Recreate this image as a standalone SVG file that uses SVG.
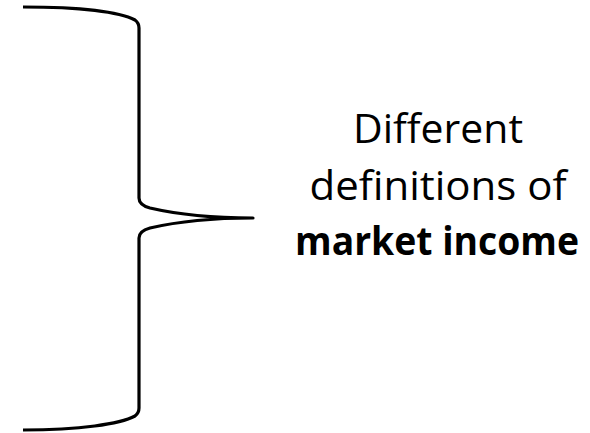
<svg xmlns="http://www.w3.org/2000/svg" width="590" height="433" viewBox="0 0 590 433">
<style>
.brace{fill:none;stroke:#000;stroke-width:3.2;stroke-linejoin:round}
.t{font-family:"Open Sans","Liberation Sans",Arial,sans-serif;font-size:41px;fill:#000;text-anchor:middle}
.b{font-weight:bold;font-size:40px}
</style>
<rect width="590" height="433" fill="#fff"/>
<g id="connectors">
<path id="brace" class="brace" d="M23,7 C80,7 120,12 135,20 Q139,23 139,28 L139,198 Q139,205 150,208 C180,215 215,218 253,218 C215,218 180,221 150,228 Q139,231 139,238 L139,408 Q139,413 135,416 C120,424 80,430 23,430"/>
</g>
<g id="label">
<text class="t" x="438" y="143" textLength="170" lengthAdjust="spacingAndGlyphs">Different</text>
<text class="t" x="438" y="200" textLength="257" lengthAdjust="spacingAndGlyphs">definitions of</text>
<text class="t b" x="437" y="255" textLength="284" lengthAdjust="spacingAndGlyphs">market income</text>
</g>
</svg>
